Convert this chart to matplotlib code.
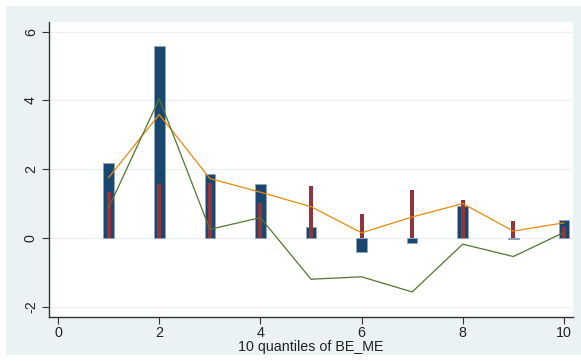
import numpy as np
import matplotlib.pyplot as plt
from matplotlib.patches import Rectangle

# deciles of BE_ME
quantile = [1, 2, 3, 4, 5, 6, 7, 8, 9, 10]
navy_vals = [2.17, 5.58, 1.87, 1.58, 0.31, -0.41, -0.14, 0.93, -0.03, 0.53]
maroon_vals = [1.35, 1.56, 1.60, 1.02, 1.51, 0.70, 1.40, 1.10, 0.50, 0.32]
orange_vals = [1.76, 3.59, 1.73, 1.33, 0.91, 0.15, 0.61, 1.00, 0.20, 0.44]
green_vals = [0.88, 4.05, 0.25, 0.59, -1.20, -1.13, -1.57, -0.18, -0.54, 0.16]
yticks = [-2, 0, 2, 4, 6]
xticks = [0, 2, 4, 6, 8, 10]

plt.rcParams['font.family'] = ['Liberation Sans', 'DejaVu Sans']

fig = plt.figure(figsize=(5.81, 3.61), dpi=100, facecolor='white')
# stata style graph region
fig.patches.append(Rectangle((6/581, 6/361), 575/581, 349/361, transform=fig.transFigure,
                             facecolor='#EAF2F3', edgecolor='none', zorder=-10))

ax = fig.add_axes([49/581, 44.3/361, 524/581, 294.7/361])
ax.set_facecolor('white')

ax.bar(quantile, navy_vals, width=0.21, color='#1A476F', edgecolor='#8FA6BC', linewidth=0.5, zorder=2)
ax.bar(quantile, maroon_vals, width=0.08, color='#90353B', edgecolor='none', zorder=3)
ax.plot(quantile, orange_vals, color='#E8890C', lw=0.9, zorder=4)
ax.plot(quantile, green_vals, color='#55752F', lw=0.9, zorder=4)

ax.set_xlim(-0.18, 10.18)
ax.set_ylim(-2.29, 6.28)
ax.set_xticks(xticks)
ax.set_yticks(yticks)
ax.set_yticklabels([str(v) for v in yticks], rotation=90, va='center')
ax.grid(axis='y', color='#EAF2F3', lw=1.0, zorder=0)
ax.set_axisbelow(True)

for s in ['top', 'right']:
    ax.spines[s].set_visible(False)
for s in ['left', 'bottom']:
    ax.spines[s].set_color('#333333')
    ax.spines[s].set_linewidth(1.0)
ax.tick_params(axis='both', length=5, width=0.8, color='#333333', labelsize=10.3, labelcolor='#222222')
ax.tick_params(axis='y', pad=3)
ax.tick_params(axis='x', pad=2)

ax.set_xlabel('10 quantiles of BE_ME', fontsize=10.3, color='#222222', labelpad=0)

fig.savefig('out.png', dpi=100, facecolor='white')
